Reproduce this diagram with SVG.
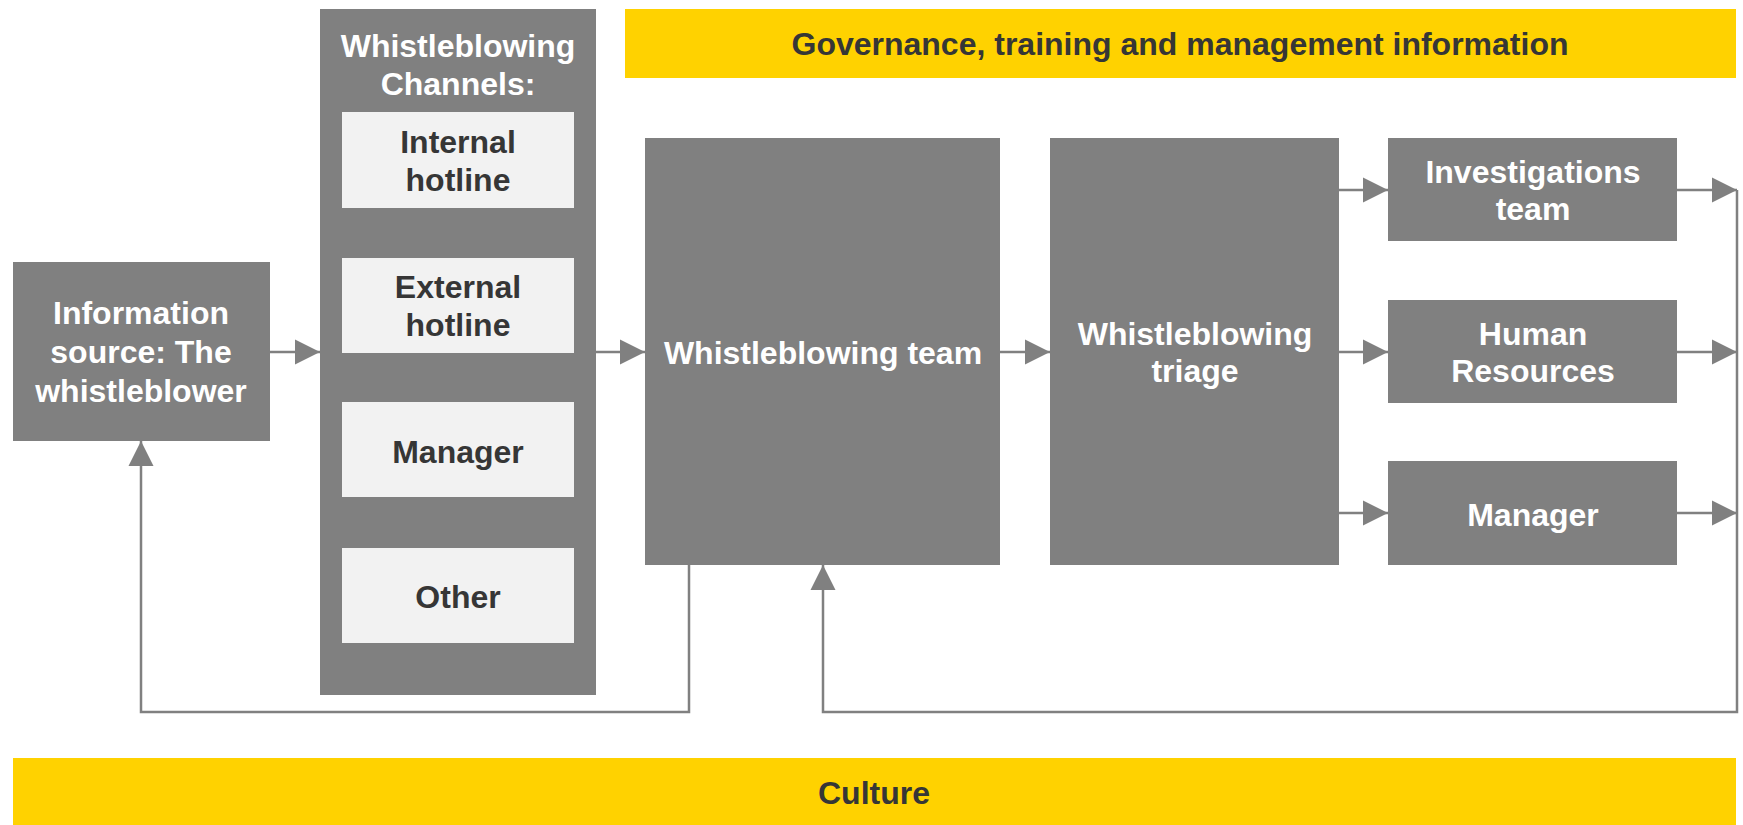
<svg xmlns="http://www.w3.org/2000/svg" width="1743" height="825" viewBox="0 0 1743 825">
  <style>
    .box { fill: #808080; }
    .item { fill: #F2F2F2; }
    .band { fill: #FFD200; }
    text { font-family: "Liberation Sans", Arial, sans-serif; font-weight: bold; font-size: 32px; text-anchor: middle; dominant-baseline: central; }
    .light { fill: #FFFFFF; }
    .dark { fill: #363636; }
    .link { fill: none; stroke: #808080; stroke-width: 2.5; }
  </style>
  <defs>
    <marker id="arrow" viewBox="0 0 10 10" refX="10" refY="5" markerUnits="userSpaceOnUse" markerWidth="25" markerHeight="27" orient="auto">
      <path d="M0,0 L10,5 L0,10 z" fill="#808080"/>
    </marker>
  </defs>

  <!-- horizontal bands -->
  <g id="governance">
    <rect class="band" x="625" y="9" width="1111" height="69"/>
    <text class="dark" x="1180" y="44">Governance, training and management information</text>
  </g>
  <g id="culture">
    <rect class="band" x="13" y="758" width="1723" height="67"/>
    <text class="dark" x="874" y="793">Culture</text>
  </g>

  <!-- flow nodes -->
  <g id="source">
    <rect class="box" x="13" y="262" width="257" height="179"/>
    <text class="light" x="141" y="313">Information</text>
    <text class="light" x="141" y="352">source: The</text>
    <text class="light" x="141" y="391">whistleblower</text>
  </g>

  <g id="channels">
    <rect class="box" x="320" y="9" width="276" height="686"/>
    <text class="light" x="458" y="46">Whistleblowing</text>
    <text class="light" x="458" y="84">Channels:</text>
    <g id="internal-hotline">
      <rect class="item" x="342" y="112" width="232" height="96"/>
      <text class="dark" x="458" y="142">Internal</text>
      <text class="dark" x="458" y="180">hotline</text>
    </g>
    <g id="external-hotline">
      <rect class="item" x="342" y="258" width="232" height="95"/>
      <text class="dark" x="458" y="287">External</text>
      <text class="dark" x="458" y="325">hotline</text>
    </g>
    <g id="channel-manager">
      <rect class="item" x="342" y="402" width="232" height="95"/>
      <text class="dark" x="458" y="452">Manager</text>
    </g>
    <g id="channel-other">
      <rect class="item" x="342" y="548" width="232" height="95"/>
      <text class="dark" x="458" y="597">Other</text>
    </g>
  </g>

  <g id="team">
    <rect class="box" x="645" y="138" width="355" height="427"/>
    <text class="light" x="823" y="353">Whistleblowing team</text>
  </g>

  <g id="triage">
    <rect class="box" x="1050" y="138" width="289" height="427"/>
    <text class="light" x="1195" y="334">Whistleblowing</text>
    <text class="light" x="1195" y="371">triage</text>
  </g>

  <g id="investigations">
    <rect class="box" x="1388" y="138" width="289" height="103"/>
    <text class="light" x="1533" y="172">Investigations</text>
    <text class="light" x="1533" y="209">team</text>
  </g>

  <g id="hr">
    <rect class="box" x="1388" y="300" width="289" height="103"/>
    <text class="light" x="1533" y="334">Human</text>
    <text class="light" x="1533" y="371">Resources</text>
  </g>

  <g id="manager">
    <rect class="box" x="1388" y="461" width="289" height="104"/>
    <text class="light" x="1533" y="515">Manager</text>
  </g>

  <!-- connectors -->
  <g id="connectors">
    <line class="link" x1="270" y1="352" x2="320" y2="352" marker-end="url(#arrow)"/>
    <line class="link" x1="596" y1="352" x2="645" y2="352" marker-end="url(#arrow)"/>
    <line class="link" x1="1000" y1="352" x2="1050" y2="352" marker-end="url(#arrow)"/>
    <line class="link" x1="1339" y1="190" x2="1388" y2="190" marker-end="url(#arrow)"/>
    <line class="link" x1="1339" y1="352" x2="1388" y2="352" marker-end="url(#arrow)"/>
    <line class="link" x1="1339" y1="513" x2="1388" y2="513" marker-end="url(#arrow)"/>
    <line class="link" x1="1677" y1="190" x2="1737" y2="190" marker-end="url(#arrow)"/>
    <line class="link" x1="1677" y1="352" x2="1737" y2="352" marker-end="url(#arrow)"/>
    <line class="link" x1="1677" y1="513" x2="1737" y2="513" marker-end="url(#arrow)"/>
    <!-- feedback to the whistleblower -->
    <polyline class="link" points="689,565 689,712 141,712 141,441" marker-end="url(#arrow)"/>
    <!-- feedback from outcome owners to the team -->
    <polyline class="link" points="1737,190 1737,712 823,712 823,565" marker-end="url(#arrow)"/>
  </g>
</svg>
